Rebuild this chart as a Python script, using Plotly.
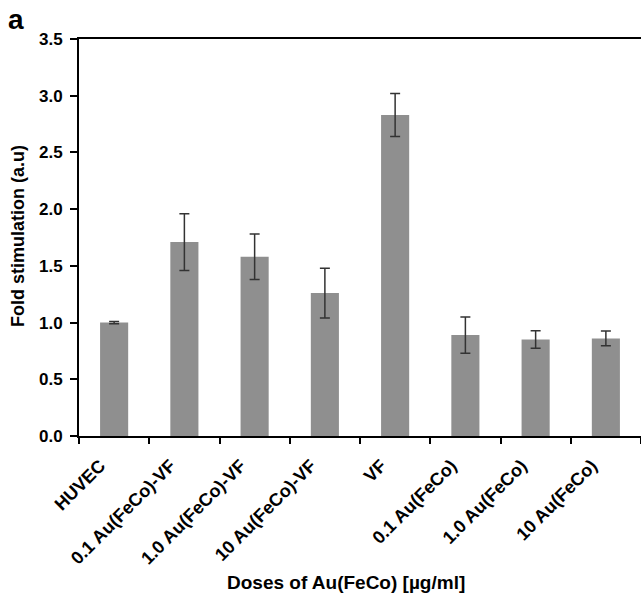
import plotly.graph_objects as go

categories = ["HUVEC", "0.1 Au(FeCo)-VF", "1.0 Au(FeCo)-VF", "10 Au(FeCo)-VF",
              "VF", "0.1 Au(FeCo)", "1.0 Au(FeCo)", "10 Au(FeCo)"]
values = [1.0, 1.71, 1.58, 1.26, 2.83, 0.89, 0.85, 0.86]
errors = [0.01, 0.25, 0.20, 0.22, 0.19, 0.16, 0.077, 0.065]
y_ticks = [0.0, 0.5, 1.0, 1.5, 2.0, 2.5, 3.0, 3.5]
y_tick_labels = ["0.0", "0.5", "1.0", "1.5", "2.0", "2.5", "3.0", "3.5"]

FONT = "Arial, Liberation Sans, sans-serif"

fig = go.Figure()
fig.add_trace(go.Bar(
    x=categories, y=values,
    width=0.4,
    marker=dict(color="#8f8f8f", line=dict(width=0)),
    error_y=dict(type="data", array=errors, visible=True,
                 color="#333333", thickness=1.5, width=5),
))

fig.update_layout(
    width=641, height=595,
    margin=dict(l=79, r=0, t=39, b=159),
    paper_bgcolor="white", plot_bgcolor="white",
    showlegend=False,
    xaxis=dict(
        type="category",
        showline=True, linecolor="black", linewidth=2, mirror=True,
        ticks="outside", tickson="boundaries", ticklen=6, tickwidth=1.5, tickcolor="black",
        tickangle=-45,
        ticklabelstandoff=10, ticklabelshift=-14,
        tickfont=dict(family=FONT, size=18, color="black", weight="bold"),
        showgrid=False,
    ),
    yaxis=dict(
        range=[0, 3.5],
        tickvals=y_ticks, ticktext=y_tick_labels,
        showline=True, linecolor="black", linewidth=2,
        ticks="outside", ticklen=7, tickwidth=1.5, tickcolor="black",
        ticklabelstandoff=4,
        tickfont=dict(family=FONT, size=17, color="black", weight="bold"),
        showgrid=False, zeroline=False,
    ),
    bargap=0.6,
    annotations=[
        dict(text="<b>a</b>", xref="paper", yref="paper",
             x=-0.13, y=1.048, xanchor="left", yanchor="middle", showarrow=False,
             font=dict(family=FONT, size=28, color="black")),
        dict(text="<b>Fold stimulation (a.u)</b>", xref="paper", yref="paper",
             x=-0.1085, y=0.504, xanchor="center", yanchor="middle", textangle=-90,
             showarrow=False, font=dict(family=FONT, size=18, color="black")),
        dict(text="<b>Doses of Au(FeCo) [µg/ml]</b>", xref="paper", yref="paper",
             x=0.475, y=-0.368, xanchor="center", yanchor="middle",
             showarrow=False, font=dict(family=FONT, size=19, color="black")),
    ],
)

fig.write_html("out.html")
